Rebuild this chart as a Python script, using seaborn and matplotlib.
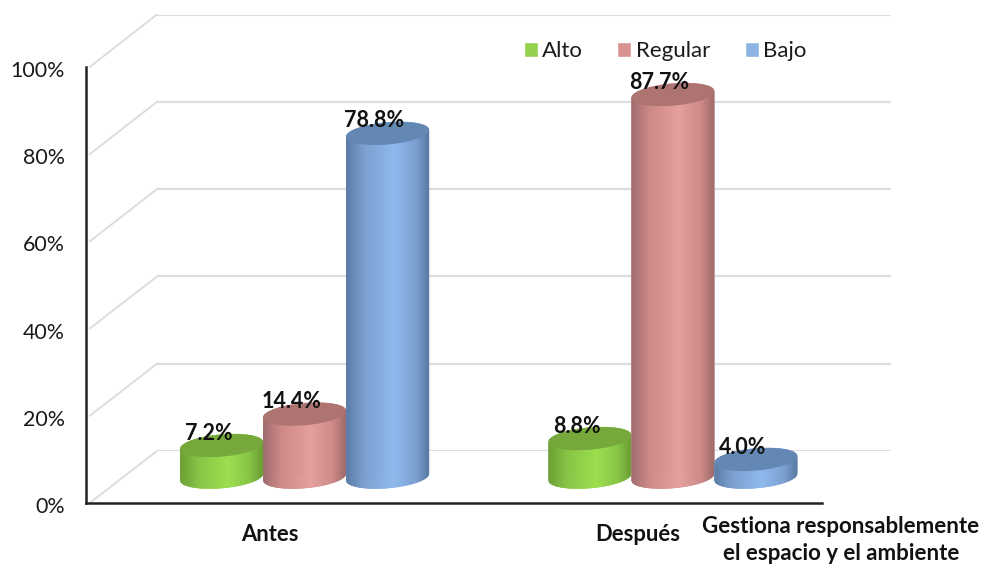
import numpy as np
import pandas as pd
import matplotlib
matplotlib.use("Agg")
import matplotlib.pyplot as plt
import matplotlib.transforms as mtrans
import seaborn as sns
from matplotlib.path import Path
from matplotlib.patches import PathPatch, ConnectionPatch
from matplotlib.collections import PolyCollection
from matplotlib.colors import LinearSegmentedColormap

periods = ["Antes", "Después"]
levels = ["Alto", "Regular", "Bajo"]
alto = [7.2, 8.8]
regular = [14.4, 87.7]
bajo = [78.8, 4.0]
y_ticks = [0, 20, 40, 60, 80, 100]
y_labels = ["0%", "20%", "40%", "60%", "80%", "100%"]
axis_title = "Gestiona responsablemente\nel espacio y el ambiente"

flat = {"Alto": "#94d24e", "Regular": "#d89290", "Bajo": "#8db4e3"}
mid = {"Alto": "#86c445", "Regular": "#cd8a88", "Bajo": "#7ba0d0"}
edge = {"Alto": "#6c9f34", "Regular": "#a06c6c", "Bajo": "#5a7ba6"}
light = {"Alto": "#9be04e", "Regular": "#e6a09e", "Bajo": "#8fb9ee"}
lid = {"Alto": "#76a83c", "Regular": "#ad7472", "Bajo": "#6488b4"}

sns.set_theme(style="white")
plt.rcParams["font.family"] = ["Lato", "DejaVu Sans"]

W, H = 985, 565
fig = plt.figure(figsize=(W / 100, H / 100), dpi=100, facecolor="white")


def add_axes(x0, x1, ytop, ybot):
    return fig.add_axes([x0 / W, 1 - ybot / H, (x1 - x0) / W, (ybot - ytop) / H])


ax_back = add_axes(157, 891, 14.5, 451)
ax_front = add_axes(86, 822, 67, 503)
ax_mid = add_axes(120.5, 857, 41, 477)

# Back wall gridlines
ax_back.set_xlim(-0.5, 1.5)
ax_back.set_ylim(0, 100)
ax_back.set_yticks(y_ticks)
ax_back.set_xticks([])
ax_back.tick_params(left=False, labelleft=False)
ax_back.grid(axis="y", color="#dddddd", lw=1.6)
ax_back.patch.set_visible(False)
for s in ax_back.spines.values():
    s.set_visible(False)

# Front plane: axes lines and labels
ax_front.set_xlim(-0.5, 1.5)
ax_front.set_ylim(0, 100)
ax_front.set_yticks(y_ticks, y_labels, fontsize=15.4, color="#1a1a1a")
ax_front.set_xticks([0, 1], periods, fontsize=15.8, fontweight="bold", color="#111111")
ax_front.tick_params(axis="y", length=0, pad=15)
ax_front.tick_params(axis="x", length=0, pad=15)
ax_front.patch.set_visible(False)
sns.despine(ax=ax_front)
for side in ("left", "bottom"):
    ax_front.spines[side].set_linewidth(1.8)
    ax_front.spines[side].set_color("#222222")
shift_down = mtrans.ScaledTranslation(0, -1.5 / 72, fig.dpi_scale_trans)
for lab in ax_front.get_yticklabels():
    lab.set_transform(lab.get_transform() + shift_down)
ax_front.set_xlabel(axis_title, fontsize=16, fontweight="bold", color="#111111",
                    linespacing=1.3, ha="center", va="center")
ax_front.xaxis.set_label_coords((841 - 86) / 736, -(540 - 503) / 436)

# Side-wall diagonals joining front plane and back wall
for v in y_ticks:
    fig.add_artist(ConnectionPatch(xyA=(-0.49, v), coordsA=ax_front.transData,
                                   xyB=(-0.5, v), coordsB=ax_back.transData,
                                   color="#dddddd", lw=1.4, zorder=0))

# Bars through seaborn
df = pd.DataFrame({
    "Periodo": periods * 3,
    "Nivel": [levels[0]] * 2 + [levels[1]] * 2 + [levels[2]] * 2,
    "Valor": alto + regular + bajo,
})
sns.barplot(data=df, x="Periodo", y="Valor", hue="Nivel", hue_order=levels,
            order=periods, palette=flat, width=0.676, gap=0, saturation=1,
            ax=ax_mid, legend=True)
ax_mid.set_xlim(-0.5, 1.5)
ax_mid.set_ylim(0, 100)
ax_mid.patch.set_visible(False)
ax_mid.set_xlabel("")
ax_mid.set_ylabel("")
ax_mid.set_xticks([])
ax_mid.set_yticks([])
for s in ax_mid.spines.values():
    s.set_visible(False)

sx = 736.5 / 2  # px per category
sy = 4.36       # px per percent
b_px = 11.0
rot = np.deg2rad(5)


def ellipse_pts(cx, cy, a_px, ts):
    dx = a_px * np.cos(ts) * np.cos(rot) - b_px * np.sin(ts) * np.sin(rot)
    dy = a_px * np.cos(ts) * np.sin(rot) + b_px * np.sin(ts) * np.cos(rot)
    return np.column_stack([cx + dx / sx, cy + dy / sy])


order_idx = 0
bars = [p for c in ax_mid.containers for p in c]
names = [lv for lv in levels for _ in periods]
for bar, name in zip(bars, names):
    x0 = bar.get_x()
    w = bar.get_width()
    h = bar.get_height()
    cx = x0 + w / 2
    a_px = w * sx / 2
    t0 = np.arctan2(-b_px * np.sin(rot), a_px * np.cos(rot))
    low = ellipse_pts(cx, 0, a_px, np.linspace(t0 + np.pi, t0 + 2 * np.pi, 200))
    up = ellipse_pts(cx, h, a_px, np.linspace(t0 + np.pi, t0, 200))
    # Keep the flat seaborn bar only behind the cylinder silhouette
    inner = PathPatch(Path(np.vstack([low, up[::-1], low[:1]]), closed=True),
                      transform=ax_mid.transData, fc="none", ec="none", clip_on=False)
    ax_mid.add_patch(inner)
    bar.set_clip_path(inner)
    bar.set_zorder(2 + order_idx)
    cmap = LinearSegmentedColormap.from_list(
        name, [(0, edge[name]), (0.22, mid[name]), (0.58, light[name]),
               (0.85, mid[name]), (1, edge[name])])
    # Cylinder side: columns span exactly from the lower to the upper outline
    xs = np.linspace(low[0, 0], low[-1, 0], 121)
    ylow = np.interp(xs, low[:, 0], low[:, 1])
    yup = np.interp(xs, up[:, 0], up[:, 1])
    quads = [[(xs[i], ylow[i]), (xs[i + 1], ylow[i + 1]),
              (xs[i + 1], yup[i + 1]), (xs[i], yup[i])] for i in range(120)]
    side = PolyCollection(quads, array=np.linspace(0, 1, 120), cmap=cmap,
                          clim=(0, 1), edgecolors="face", linewidths=0.4,
                          transform=ax_mid.transData, zorder=2 + order_idx)
    ax_mid.add_collection(side, autolim=False)
    side.set_clip_on(False)
    top_pts = ellipse_pts(cx, h, a_px, np.linspace(0, 2 * np.pi, 120))
    ax_mid.add_patch(PathPatch(Path(top_pts, closed=True), fc=lid[name], ec="none",
                               clip_on=False, zorder=2 + order_idx + 0.5))
    ax_mid.annotate(f"{h:.1f}%", xy=(cx, h), xytext=(-9.5, 9),
                    textcoords="offset points", ha="center", va="center",
                    fontsize=15.5, fontweight="bold", color="#111111",
                    annotation_clip=False, zorder=50)
    order_idx += 1
ax_mid.set_xlim(-0.5, 1.5)
ax_mid.set_ylim(0, 100)

sns.move_legend(ax_mid, "center", bbox_to_anchor=((665 - 120.5) / 736.5, (477 - 51) / 436),
                ncols=3, frameon=False, title=None, fontsize=16,
                handlelength=0.63, handleheight=0.66, handletextpad=0.2,
                columnspacing=1.55, borderpad=0, labelcolor="#1a1a1a")

fig.savefig("out.png", dpi=100, facecolor="white")
